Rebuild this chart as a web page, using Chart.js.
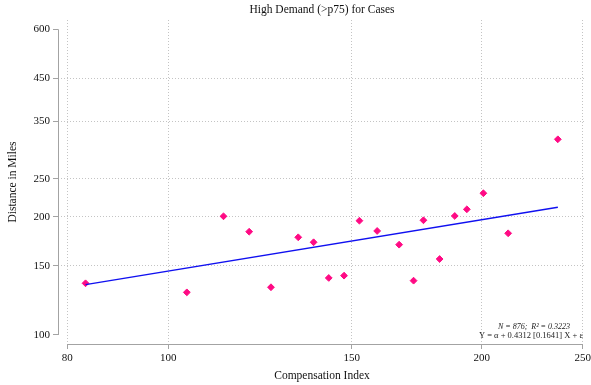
<!DOCTYPE html>
<html>
<head>
<meta charset="utf-8">
<script src="https://cdn.jsdelivr.net/npm/chart.js@4/dist/chart.umd.min.js"></script>
<style>
  html, body { margin: 0; padding: 0; background: #fff; }
  canvas { display: block; }
</style>
</head>
<body>
<canvas id="chart" width="591" height="385"></canvas>
<script>
// Compensation index (x) and distance in miles (y)
const compIndex = [83.3, 104.2, 113.0, 119.6, 125.5, 133.3, 137.9, 142.6, 147.5, 152.6,
                   158.7, 166.6, 172.0, 175.8, 182.2, 188.4, 193.5, 200.7, 212.0, 236.6];
const distance  = [135.4, 128.4, 200.5, 183.2, 132.3, 177.3, 172.2, 139.7, 141.6, 195.4,
                   184.0, 169.8, 137.5, 195.9, 156.1, 200.9, 208.9, 229.5, 181.5, 314.9];

// fitted line end points
const fitX = [83.3, 236.6];
const fitY = [134.3, 211.4];

// tick labels
const xTicks = [80, 100, 150, 200, 250];
const yTicks = [100, 150, 200, 250, 350, 450, 600];

const noteLines = ["N = 876;  R\u00B2 = 0.3223", "Y = \u03B1 + 0.4312 [0.1641] X + \u03B5"];

const serif = "'Liberation Serif', 'DejaVu Serif', serif";
const axisGray = "#a3a3a3";
const gridGray = "#c4c4c4";

// Stata-like axis lines that only span the tick range
const axisLines = {
  id: "axisLines",
  beforeDatasetsDraw(chart) {
    const { ctx, chartArea, scales: { x, y } } = chart;
    ctx.save();
    ctx.strokeStyle = axisGray;
    ctx.lineWidth = 1;
    ctx.beginPath();
    const lx = Math.round(chartArea.left) + 0.5;
    ctx.moveTo(lx, y.getPixelForValue(yTicks[0]));
    ctx.lineTo(lx, y.getPixelForValue(yTicks[yTicks.length - 1]));
    const by = Math.round(chartArea.bottom) + 0.5;
    ctx.moveTo(x.getPixelForValue(xTicks[0]), by);
    ctx.lineTo(x.getPixelForValue(xTicks[xTicks.length - 1]), by);
    ctx.stroke();
    ctx.restore();
  }
};

// regression note in the lower right corner
const fitNote = {
  id: "fitNote",
  afterDraw(chart) {
    const { ctx } = chart;
    ctx.save();
    ctx.fillStyle = "#222";
    ctx.textAlign = "right";
    ctx.textBaseline = "alphabetic";
    ctx.font = "italic 8px " + serif;
    ctx.fillText(noteLines[0], 570, 329);
    ctx.font = "8.5px " + serif;
    ctx.fillText(noteLines[1], 583, 338);
    ctx.restore();
  }
};

const points = compIndex.map((v, i) => ({ x: v, y: distance[i] }));
const fitLine = fitX.map((v, i) => ({ x: v, y: fitY[i] }));

const tickFont = { family: serif, size: 11 };

new Chart(document.getElementById("chart"), {
  type: "scatter",
  data: {
    datasets: [
      {
        type: "line",
        data: fitLine,
        borderColor: "#1010f0",
        borderWidth: 1.4,
        pointRadius: 0,
        fill: false
      },
      {
        data: points,
        pointStyle: "rectRot",
        pointRadius: 3.4,
        backgroundColor: "#ff0a84",
        borderColor: "#ff0a84",
        borderWidth: 1
      }
    ]
  },
  options: {
    responsive: false,
    animation: false,
    layout: { padding: { left: 0, right: 1, top: 0, bottom: 0 } },
    plugins: {
      legend: { display: false },
      tooltip: { enabled: false },
      title: {
        display: true,
        fullSize: false,
        text: "High Demand (>p75) for Cases",
        color: "#111",
        font: { family: serif, size: 11.5, weight: "normal" },
        padding: { top: 3, bottom: 3.2 }
      }
    },
    scales: {
      x: {
        type: "logarithmic",
        min: 78.38,
        max: 251.8,
        bounds: "data",
        afterBuildTicks: axis => { axis.ticks = xTicks.map(v => ({ value: v })); },
        afterFit: axis => { axis.height = 41; axis.paddingLeft = 0; axis.paddingRight = 0; },
        ticks: {
          autoSkip: false,
          maxRotation: 0,
          padding: 3,
          color: "#111",
          font: tickFont,
          callback: v => String(v)
        },
        grid: {
          color: gridGray,
          lineWidth: 1,
          tickLength: 5,
          tickColor: axisGray,
          tickBorderDash: []
        },
        border: { display: false, dash: [1, 2] },
        title: {
          display: true,
          text: "Compensation Index",
          color: "#111",
          font: { family: serif, size: 11.5 },
          padding: { top: 0, bottom: 2 }
        }
      },
      y: {
        type: "logarithmic",
        min: 94.86,
        max: 633.6,
        bounds: "data",
        afterBuildTicks: axis => { axis.ticks = yTicks.map(v => ({ value: v })); },
        afterFit: axis => { axis.width = 58; axis.paddingTop = 0; axis.paddingBottom = 0; },
        ticks: {
          autoSkip: false,
          padding: 3,
          color: "#111",
          font: tickFont,
          callback: v => String(v)
        },
        grid: {
          color: ctx => (ctx.tick && (ctx.tick.value === yTicks[0] || ctx.tick.value === yTicks[yTicks.length - 1])) ? "rgba(0,0,0,0)" : gridGray,
          lineWidth: 1,
          tickLength: 5,
          tickColor: axisGray,
          tickBorderDash: []
        },
        border: { display: false, dash: [1, 2] },
        title: {
          display: true,
          text: "Distance in Miles",
          color: "#111",
          font: { family: serif, size: 11.5 },
          padding: { top: 6, bottom: 0 }
        }
      }
    }
  },
  plugins: [axisLines, fitNote]
});
</script>
</body>
</html>
